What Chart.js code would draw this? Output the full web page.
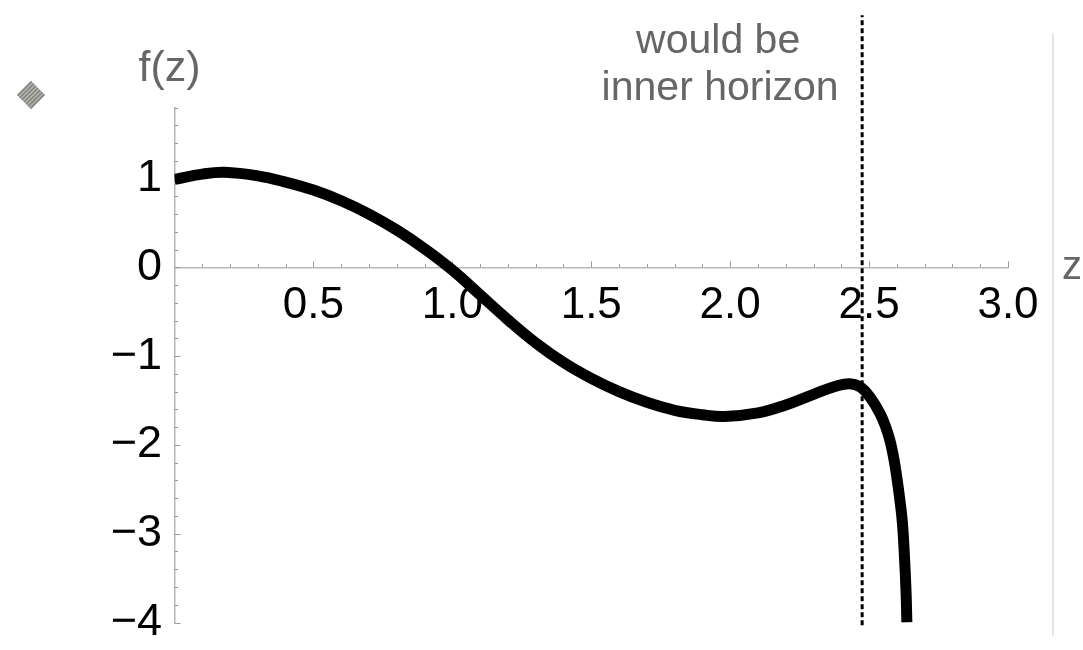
<!DOCTYPE html>
<html><head><meta charset="utf-8">
<script src="https://cdn.jsdelivr.net/npm/chart.js@4.4.1/dist/chart.umd.min.js"></script>
<style>
html,body{margin:0;padding:0;background:#fff;}
#wrap{position:relative;width:1083px;height:650px;}
#frame{position:absolute;left:1052px;top:33px;width:2px;height:603px;background:#e4e4e4;}
#mark{position:absolute;left:21px;top:85px;width:20px;height:20px;transform:rotate(45deg);background:repeating-linear-gradient(90deg,#858880 0 2px,#c6c8c2 2px 3px);}
</style></head>
<body><div id="wrap"><canvas id="c"></canvas><div id="frame"></div><div id="mark"></div></div>
<script>
// ---- data ----
const zValues = [0.00, 0.10, 0.18, 0.30, 0.40, 0.50, 0.60, 0.70, 0.80, 0.90, 1.00, 1.10, 1.20, 1.30, 1.40, 1.50, 1.60, 1.70, 1.80, 1.90, 1.98, 2.10, 2.20, 2.30, 2.38, 2.43, 2.47, 2.505, 2.54, 2.56, 2.575, 2.59, 2.60, 2.61, 2.62, 2.628, 2.633, 2.636];
const fValues = [0.99, 1.05, 1.07, 1.03, 0.96, 0.87, 0.75, 0.60, 0.42, 0.21, -0.03, -0.31, -0.59, -0.85, -1.07, -1.25, -1.40, -1.52, -1.61, -1.66, -1.68, -1.64, -1.55, -1.43, -1.34, -1.31, -1.35, -1.47, -1.65, -1.80, -1.95, -2.17, -2.37, -2.60, -2.88, -3.30, -3.65, -4.00];
const xTickLabels = ['0.5', '1.0', '1.5', '2.0', '2.5', '3.0'];
const yTickLabels = ['1', '0', '−1', '−2', '−3', '−4'];
const xRange = [0, 3.0];
const yRange = [-4, 1.8];
const horizonZ = 2.475;
const horizonSpan = [-4.03, 2.84];
const yAxisTitle = 'f(z)';
const xAxisTitle = 'z';
const noteLines = ['would be', 'inner horizon'];

const FAMILY = '"Liberation Sans", Arial, Helvetica, sans-serif';

function xLabel(v) {
  const s = (Math.round(v * 10) / 10).toFixed(1);
  return xTickLabels.includes(s) ? s : '';
}
function yLabel(v) {
  const r = Math.round(v * 10) / 10;
  if (!Number.isInteger(r)) return '';
  const s = r < 0 ? '−' + (-r) : String(r);
  // trailing space keeps the label clear of the axis line
  return yTickLabels.includes(s) ? s + ' ' : '';
}

const tickMarks = {
  id: 'tickMarks',
  beforeDatasetsDraw(chart) {
    const {ctx, scales: {x, y}} = chart;
    const y0 = y.getPixelForValue(0), x0 = x.getPixelForValue(0);
    ctx.save();
    ctx.strokeStyle = '#9a9a9a';
    ctx.lineWidth = 1;
    x.ticks.forEach(t => {
      if (Math.abs(t.value) < 1e-9) return;
      const px = Math.round(x.getPixelForValue(t.value)) + 0.5;
      const major = t.label !== '';
      ctx.beginPath(); ctx.moveTo(px, y0); ctx.lineTo(px, y0 - (major ? 6 : 3.5)); ctx.stroke();
    });
    y.ticks.forEach(t => {
      const py = Math.round(y.getPixelForValue(t.value)) + 0.5;
      const major = t.label !== '';
      ctx.beginPath(); ctx.moveTo(x0, py); ctx.lineTo(x0 + (major ? 6 : 3.5), py); ctx.stroke();
    });
    ctx.restore();
  }
};

const annotations = {
  id: 'annotations',
  afterDraw(chart) {
    const {ctx, scales: {x, y}} = chart;
    const x0 = x.getPixelForValue(0), y0 = y.getPixelForValue(0);
    ctx.save();
    ctx.fillStyle = '#666666';
    ctx.textAlign = 'center';
    ctx.textBaseline = 'alphabetic';
    ctx.font = '43px ' + FAMILY;
    ctx.fillText(yAxisTitle, x0 - 5, y.top - 27);
    ctx.font = '40px ' + FAMILY;
    ctx.fillText(xAxisTitle, x.right + 64, y0 + 12);
    ctx.font = '41px ' + FAMILY;
    const hx = x.getPixelForValue(horizonZ);
    ctx.fillText(noteLines[0], hx - 144, 53);
    ctx.fillText(noteLines[1], hx - 142, 100);
    ctx.restore();
  }
};

new Chart(document.getElementById('c'), {
  type: 'line',
  data: {
    datasets: [
      {
        data: zValues.map((z, i) => ({x: z, y: fValues[i]})),
        borderColor: '#000',
        borderWidth: 11,
        pointRadius: 0,
        tension: 0.4,
        fill: false
      },
      {
        data: horizonSpan.map(v => ({x: horizonZ, y: v})),
        borderColor: '#000',
        borderWidth: 3,
        borderDash: [5, 3],
        pointRadius: 0,
        fill: false,
        clip: false
      }
    ]
  },
  options: {
    animation: false,
    responsive: true,
    maintainAspectRatio: false,
    layout: {padding: {left: 174.5, right: 75, top: 107.5, bottom: 27.5}},
    plugins: {legend: {display: false}, tooltip: {enabled: false}},
    scales: {
      x: {
        type: 'linear', min: xRange[0], max: xRange[1], position: {y: 0},
        afterFit: s => { s.height = 0; s.paddingLeft = 0; s.paddingRight = 0; s.paddingTop = 0; s.paddingBottom = 0; },
        grid: {display: false, drawTicks: false},
        border: {display: true, color: '#b8b8b8', width: 1.5},
        ticks: {stepSize: 0.1, autoSkip: false, maxRotation: 0, minRotation: 0, padding: 12,
          color: '#000', font: {size: 44, family: FAMILY}, callback: xLabel}
      },
      y: {
        type: 'linear', min: yRange[0], max: yRange[1], position: {x: 0},
        afterFit: s => { s.width = 0; s.paddingLeft = 0; s.paddingRight = 0; s.paddingTop = 0; s.paddingBottom = 0; },
        grid: {display: false, drawTicks: false},
        border: {display: true, color: '#b8b8b8', width: 1.5},
        ticks: {stepSize: 0.2, autoSkip: false, padding: 12,
          color: '#000', font: {size: 45, family: FAMILY}, callback: yLabel}
      }
    }
  },
  plugins: [tickMarks, annotations]
});
</script>
</body></html>
